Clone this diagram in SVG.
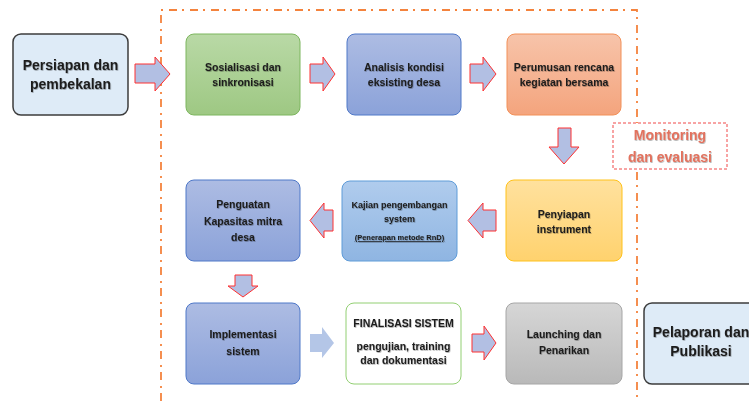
<svg xmlns="http://www.w3.org/2000/svg" width="749" height="401" viewBox="0 0 749 401">
<defs>
<linearGradient id="gGreen" x1="0" y1="0" x2="0" y2="1"><stop offset="0" stop-color="#b9d9a6"/><stop offset="1" stop-color="#9ec883"/></linearGradient>
<linearGradient id="gBlue" x1="0" y1="0" x2="0" y2="1"><stop offset="0" stop-color="#adbce3"/><stop offset="1" stop-color="#8ba2d9"/></linearGradient>
<linearGradient id="gOrange" x1="0" y1="0" x2="0" y2="1"><stop offset="0" stop-color="#f7c4aa"/><stop offset="1" stop-color="#f4a47d"/></linearGradient>
<linearGradient id="gYellow" x1="0" y1="0" x2="0" y2="1"><stop offset="0" stop-color="#ffe19e"/><stop offset="1" stop-color="#ffd26e"/></linearGradient>
<linearGradient id="gSky" x1="0" y1="0" x2="0" y2="1"><stop offset="0" stop-color="#b0cced"/><stop offset="1" stop-color="#8fb5e2"/></linearGradient>
<linearGradient id="gGray" x1="0" y1="0" x2="0" y2="1"><stop offset="0" stop-color="#d6d6d6"/><stop offset="1" stop-color="#b9b9b9"/></linearGradient>
<filter id="sh" x="-10%" y="-30%" width="120%" height="160%"><feDropShadow dx="0.6" dy="0.8" stdDeviation="0.6" flood-color="#000" flood-opacity="0.35"/></filter>
</defs>
<style>
text{font-family:"Liberation Sans",Arial,sans-serif;font-weight:bold;fill:#1c1c1c;text-anchor:middle;filter:url(#sh)}
.t{font-size:10.5px}
.big{font-size:14px}
.box{stroke-width:1}
.arr{fill:#b2bfe3;stroke:#ff3030;stroke-width:1}
.mon{font-size:14px;fill:#e2725e}
</style>

<path d="M161,401 V10 H637 V401" fill="none" stroke="#f4833d" stroke-width="1.8" stroke-dasharray="8,5,2,6"/>

<g id="n-persiapan">
<rect x="13" y="34" width="115" height="81" rx="8" fill="#deebf7" stroke="#3c3c3c" stroke-width="1.5"/>
<text class="big" x="70.5" y="70">Persiapan dan</text>
<text class="big" x="70.5" y="89">pembekalan</text>
</g>
<g id="n-sosialisasi">
<rect x="186" y="34" width="114" height="81" rx="8" fill="url(#gGreen)" stroke="#7db65f" class="box"/>
<text class="t" x="243" y="71">Sosialisasi dan</text>
<text class="t" x="243" y="86">sinkronisasi</text>
</g>
<g id="n-analisis">
<rect x="347" y="34" width="114" height="81" rx="8" fill="url(#gBlue)" stroke="#4f78c8" class="box"/>
<text class="t" x="404" y="71">Analisis kondisi</text>
<text class="t" x="404" y="86">eksisting desa</text>
</g>
<g id="n-perumusan">
<rect x="507" y="34" width="114" height="81" rx="8" fill="url(#gOrange)" stroke="#f29058" class="box"/>
<text class="t" x="564" y="71">Perumusan rencana</text>
<text class="t" x="564" y="86">kegiatan bersama</text>
</g>
<g id="n-monitoring">
<rect x="613" y="123" width="114" height="46" fill="#ffffff" stroke="#f04848" stroke-width="1" stroke-dasharray="3,2"/>
<text class="mon" x="670" y="140">Monitoring</text>
<text class="mon" x="670" y="162">dan evaluasi</text>
</g>
<g id="n-penyiapan">
<rect x="506" y="180" width="116" height="81" rx="8" fill="url(#gYellow)" stroke="#ffc21a" class="box"/>
<text class="t" x="564" y="218">Penyiapan</text>
<text class="t" x="564" y="233">instrument</text>
</g>
<g id="n-kajian">
<rect x="342" y="181" width="115" height="80" rx="8" fill="url(#gSky)" stroke="#5f9cd8" class="box"/>
<text x="399.5" y="208" style="font-size:9px">Kajian pengembangan</text>
<text x="399.5" y="222" style="font-size:9px">system</text>
<text x="399.5" y="240" style="font-size:7.5px;text-decoration:underline">(Penerapan metode RnD)</text>
</g>
<g id="n-penguatan">
<rect x="186" y="180" width="114" height="81" rx="8" fill="url(#gBlue)" stroke="#4f78c8" class="box"/>
<text class="t" x="243" y="208">Penguatan</text>
<text class="t" x="243" y="225">Kapasitas mitra</text>
<text class="t" x="243" y="241">desa</text>
</g>
<g id="n-implementasi">
<rect x="186" y="303" width="114" height="81" rx="8" fill="url(#gBlue)" stroke="#4f78c8" class="box"/>
<text class="t" x="243" y="338">Implementasi</text>
<text class="t" x="243" y="355">sistem</text>
</g>
<g id="n-finalisasi">
<rect x="346" y="303" width="115" height="81" rx="8" fill="#ffffff" stroke="#92cf72" class="box"/>
<text x="403.5" y="327" style="font-size:10.5px">FINALISASI SISTEM</text>
<text x="403.5" y="350" style="font-size:10.5px">pengujian, training</text>
<text x="403.5" y="364" style="font-size:10.5px">dan dokumentasi</text>
</g>
<g id="n-launching">
<rect x="506" y="303" width="116" height="81" rx="8" fill="url(#gGray)" stroke="#a6a6a6" class="box"/>
<text class="t" x="564" y="338">Launching dan</text>
<text class="t" x="564" y="354">Penarikan</text>
</g>
<g id="n-pelaporan">
<rect x="644" y="303" width="120" height="81" rx="8" fill="#deebf7" stroke="#3c3c3c" stroke-width="1.5"/>
<text class="big" x="701" y="337">Pelaporan dan</text>
<text class="big" x="701" y="356">Publikasi</text>
</g>

<g id="connectors">
<polygon class="arr" points="135,64 155,64 155,57 170,74 155,91 155,83 135,83"/>
<polygon class="arr" points="310,64 323,64 323,57 335,74 323,91 323,83 310,83"/>
<polygon class="arr" points="470,64 483,64 483,57 496,74 483,91 483,83 470,83"/>
<polygon class="arr" points="558,128 571,128 571,147 579,147 564,164 549,147 558,147"/>
<polygon class="arr" points="496,210 483,210 483,203 468,220.5 483,238 483,231 496,231"/>
<polygon class="arr" points="333,210 324,210 324,203 310,220.5 324,238 324,231 333,231"/>
<polygon class="arr" points="235,275 252,275 252,286 258,286 243,297 228,286 235,286"/>
<polygon fill="#b4c6e7" points="310,334 322,334 322,327 334,343 322,358 322,352 310,352"/>
<polygon class="arr" points="472,334 484,334 484,326 496,343 484,360 484,352 472,352"/>
</g>
</svg>
